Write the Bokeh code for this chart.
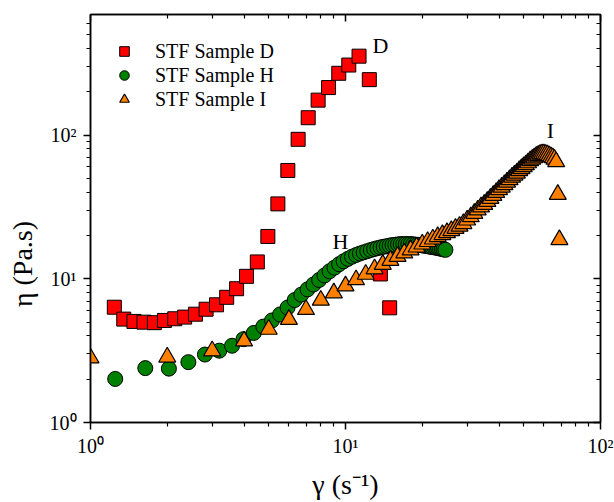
from bokeh.plotting import figure
from bokeh.models import FixedTicker, LogAxis, Legend, LegendItem, Label, Range1d
from bokeh.embed import file_html
from bokeh.resources import INLINE

FONT = "Liberation Serif"

# ---- data ----
d_x = [1.24, 1.35, 1.48, 1.62, 1.78, 1.95, 2.14, 2.34, 2.58, 2.84, 3.12, 3.42, 3.74, 4.09,
       4.51, 4.96, 5.43, 5.94, 6.52, 7.14, 7.81, 8.58, 9.41, 10.3, 11.3, 12.4, 13.7, 14.9]
d_y = [6.34, 5.24, 5.05, 4.99, 4.95, 5.13, 5.27, 5.41, 5.67, 6.14, 6.59, 7.43, 8.53, 10.4,
       13.1, 19.7, 33.2, 56.7, 93.4, 132, 175, 214, 269, 307, 354, 243, 10.8, 6.28]

h_x = [1.25, 1.64, 2.03, 2.42, 2.81, 3.20, 3.59, 3.98, 4.37, 4.76, 5.15, 5.54, 5.93, 6.32,
       6.71, 7.10, 7.49, 7.88, 8.27, 8.66, 9.05, 9.44, 9.83, 10.22, 10.61, 11.00, 11.39,
       11.78, 12.17, 12.56, 12.95, 13.34, 13.73, 14.12, 14.51, 14.90, 15.29, 15.68, 16.07,
       16.46, 16.85, 17.24, 17.63, 18.02, 18.41, 18.80, 19.19, 19.58, 19.97, 20.36, 20.75,
       21.14, 21.53, 21.92, 22.31, 22.70, 23.09, 23.48, 23.87, 24.26, 24.65]
h_y = [2.01, 2.39, 2.37, 2.63, 2.97, 3.16, 3.42, 3.80, 4.20, 4.65, 5.13, 5.65, 6.31, 7.11,
       7.76, 8.44, 9.12, 9.81, 10.54, 11.28, 11.95, 12.63, 13.23, 13.76, 14.25, 14.64, 14.99,
       15.28, 15.57, 15.85, 16.10, 16.33, 16.54, 16.70, 16.86, 17.02, 17.16, 17.24, 17.35,
       17.43, 17.43, 17.43, 17.43, 17.43, 17.35, 17.29, 17.24, 17.16, 17.08, 17.00, 16.89,
       16.81, 16.70, 16.62, 16.54, 16.44, 16.33, 16.23, 16.13, 16.00, 15.90]

i_x = [1, 2, 3, 4, 5, 6, 7, 8, 9, 10, 11, 12, 13, 14, 15, 16, 17, 18, 19, 20, 21, 22, 23,
       24, 25, 26, 27, 28, 29, 30, 31, 32, 33, 34, 35, 36, 37, 38, 39, 40, 41, 42, 43, 44,
       45, 46, 47, 48, 49, 50, 51, 52, 53, 54, 55, 56, 57, 58, 59, 60, 61, 62, 63, 64, 65,
       66, 67, 68, 69]
i_y = [2.81, 2.85, 3.15, 3.69, 4.45, 5.21, 6.11, 7.09, 7.97, 8.91, 9.84, 10.74, 11.72, 12.59,
       13.42, 14.29, 15.11, 15.85, 16.62, 17.43, 18.14, 18.88, 19.64, 20.28, 20.93, 21.61,
       22.4, 23.2, 24.2, 25.6, 27.0, 28.5, 30.1, 31.6, 32.9, 34.5, 36.2, 38.0, 39.8, 41.7,
       43.4, 45.2, 47.0, 48.9, 50.9, 52.6, 54.3, 56.5, 58.3, 60.2, 62.1, 64.1, 66.2, 67.8,
       69.4, 71.1, 72.2, 73.4, 74.0, 74.0, 73.4, 72.8, 71.7, 70.5, 69.4, 67.8, 65.2, 38.6,
       18.7]

x_major = [1, 10, 100]
x_minor = [2, 3, 4, 5, 6, 7, 8, 9, 20, 30, 40, 50, 60, 70, 80, 90]
y_major = [1, 10, 100]
y_minor = [2, 3, 4, 5, 6, 7, 8, 9, 20, 30, 40, 50, 60, 70, 80, 90, 200, 300, 400, 500, 600]
tick_labels = {1: "10\u2070", 10: "10\u00b9", 100: "10\u00b2"}
blank_labels = {1: "", 10: "", 100: ""}

series_names = ["STF Sample D", "STF Sample H", "STF Sample I"]
x_title = "\u03b3 (s\u207b\u00b9)"
y_title = "\u03b7 (Pa.s)" + "\u00a0" * 13

p = figure(width=614, height=502, x_axis_type="log", y_axis_type="log",
           x_range=Range1d(1, 100), y_range=Range1d(1, 690),
           output_backend="svg", toolbar_location=None,
           min_border_left=90, min_border_right=14, min_border_top=14, min_border_bottom=78)
p.grid.visible = False
p.outline_line_color = "black"
p.outline_line_width = 1.5
p.background_fill_color = "white"
p.border_fill_color = "white"

p.xaxis.ticker = FixedTicker(ticks=x_major, minor_ticks=x_minor)
p.yaxis.ticker = FixedTicker(ticks=y_major, minor_ticks=y_minor)
for ax in [p.xaxis[0], p.yaxis[0]]:
    ax.axis_line_width = 1.5
    ax.axis_line_color = "black"
    ax.major_tick_line_width = 1.5
    ax.minor_tick_line_width = 1.2
    ax.major_tick_line_color = "black"
    ax.minor_tick_line_color = "black"
    ax.major_tick_out = 7
    ax.major_tick_in = 0
    ax.minor_tick_out = 4
    ax.minor_tick_in = 0
    ax.major_label_overrides = tick_labels
    ax.major_label_text_font = FONT
    ax.major_label_text_font_size = "20px"
    ax.major_label_text_color = "black"
    ax.axis_label_text_font = FONT
    ax.axis_label_text_font_size = "28px"
    ax.axis_label_text_font_style = "normal"
    ax.axis_label_text_color = "black"
p.xaxis.major_label_standoff = 5
p.yaxis.major_label_standoff = 7
p.xaxis.axis_label = x_title
p.yaxis.axis_label = y_title
p.xaxis.axis_label_standoff = 9
p.yaxis.axis_label_standoff = 9

top = LogAxis(ticker=FixedTicker(ticks=x_major, minor_ticks=x_minor),
              major_tick_in=7, major_tick_out=0, minor_tick_in=4, minor_tick_out=0,
              major_label_overrides=blank_labels, major_label_text_font_size="2px",
              major_label_standoff=0, axis_line_width=1.5,
              major_tick_line_width=1.5, minor_tick_line_width=1.2)
p.add_layout(top, "above")
right = LogAxis(ticker=FixedTicker(ticks=y_major, minor_ticks=y_minor),
                major_tick_in=7, major_tick_out=0, minor_tick_in=4, minor_tick_out=0,
                major_label_overrides=blank_labels, major_label_text_font_size="2px",
                major_label_standoff=0, axis_line_width=1.5,
                major_tick_line_width=1.5, minor_tick_line_width=1.2)
p.add_layout(right, "right")

r_d = p.scatter(d_x, d_y, marker="square", size=14, fill_color="#FF0000",
                line_color="black", line_width=1)
r_h = p.scatter(h_x, h_y, marker="circle", size=15, fill_color="#008000",
                line_color="black", line_width=1)
r_i = p.scatter(i_x, i_y, marker="triangle", size=17, fill_color="#FF8000",
                line_color="black", line_width=1.2)

legend = Legend(items=[LegendItem(label=series_names[0], renderers=[r_d]),
                       LegendItem(label=series_names[1], renderers=[r_h]),
                       LegendItem(label=series_names[2], renderers=[r_i])],
                location=(22, 311), orientation="vertical",
                glyph_width=24, glyph_height=24, spacing=0, padding=0, margin=0,
                label_standoff=19, label_text_font=FONT, label_text_font_size="20px",
                label_text_color="black",
                border_line_alpha=0, background_fill_alpha=0)
p.add_layout(legend)

for txt, lx, ly in [("D", 13.7, 418), ("H", 9.56, 18.3), ("I", 63.6, 108)]:
    p.add_layout(Label(x=lx, y=ly, text=txt, text_font=FONT, text_font_size="22px",
                       text_align="center", text_baseline="middle", text_color="black"))

open("out.html", "w").write(file_html(p, INLINE))
